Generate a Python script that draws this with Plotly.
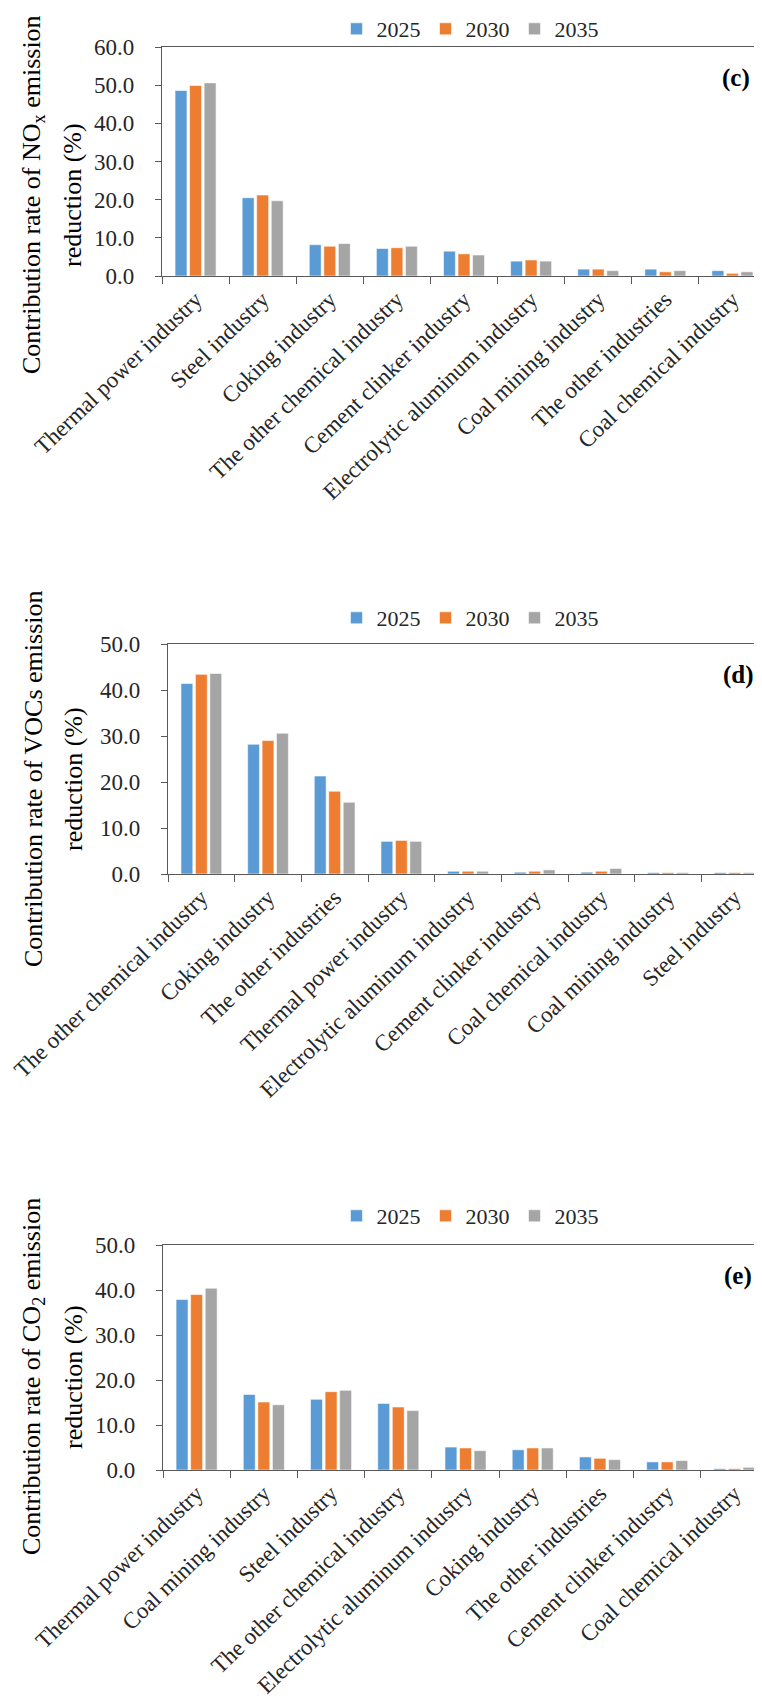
import plotly.graph_objects as go

# ---------------- data ----------------
years = ["2025", "2030", "2035"]
colors = ["#5B9BD5", "#ED7D31", "#A5A5A5"]

categories_nox = ["Thermal power industry", "Steel industry", "Coking industry",
                  "The other chemical industry", "Cement clinker industry",
                  "Electrolytic aluminum industry", "Coal mining industry",
                  "The other industries", "Coal chemical industry"]
nox_2025 = [48.6, 20.5, 8.2, 7.2, 6.5, 3.9, 1.8, 1.8, 1.4]
nox_2030 = [49.9, 21.2, 7.8, 7.4, 5.8, 4.2, 1.8, 1.1, 0.7]
nox_2035 = [50.6, 19.7, 8.5, 7.8, 5.5, 3.9, 1.4, 1.4, 1.1]

categories_voc = ["The other chemical industry", "Coking industry", "The other industries",
                  "Thermal power industry", "Electrolytic aluminum industry",
                  "Cement clinker industry", "Coal chemical industry",
                  "Coal mining industry", "Steel industry"]
voc_2025 = [41.4, 28.2, 21.3, 7.1, 0.6, 0.4, 0.4, 0.3, 0.3]
voc_2030 = [43.4, 29.0, 18.0, 7.3, 0.6, 0.6, 0.6, 0.3, 0.3]
voc_2035 = [43.6, 30.6, 15.6, 7.1, 0.6, 0.9, 1.2, 0.3, 0.3]

categories_co2 = ["Thermal power industry", "Coal mining industry", "Steel industry",
                  "The other chemical industry", "Electrolytic aluminum industry",
                  "Coking industry", "The other industries", "Cement clinker industry",
                  "Coal chemical industry"]
co2_2025 = [37.9, 16.8, 15.7, 14.8, 5.1, 4.5, 2.9, 1.8, 0.3]
co2_2030 = [39.0, 15.1, 17.4, 14.0, 4.9, 4.9, 2.6, 1.8, 0.3]
co2_2035 = [40.4, 14.5, 17.7, 13.2, 4.3, 4.9, 2.3, 2.1, 0.6]

y_ranges = [[0, 60], [0, 50], [0, 50]]
panel_tags = ["(c)", "(d)", "(e)"]
title_line1 = ["Contribution rate of NO<sub>x</sub> emission",
               "Contribution rate of VOCs emission",
               "Contribution rate of CO<sub>2</sub> emission"]
title_line2 = "reduction (%)"

# ---------------- layout geometry (pixels) ----------------
W, H = 762, 1700
FONT = "Liberation Serif, Times New Roman, serif"
panels = [
    dict(left=154, right=758, top=39, bottom=268, legend_y=None, title_cy=187),
    dict(left=160, right=760, top=636, bottom=866, legend_y=610, title_cy=771),
    dict(left=155, right=760, top=1237, bottom=1462, legend_y=1208, title_cy=1369),
]

datasets = [
    (categories_nox, [nox_2025, nox_2030, nox_2035]),
    (categories_voc, [voc_2025, voc_2030, voc_2035]),
    (categories_co2, [co2_2025, co2_2030, co2_2035]),
]

fig = go.Figure()
layout = dict(
    width=W, height=H,
    margin=dict(l=0, r=0, t=0, b=0),
    paper_bgcolor="white", plot_bgcolor="white",
    template="none",
    barmode="group", bargap=0.35, bargroupgap=0.18,
    font=dict(family=FONT, color="#262626"),
    annotations=[],
)

for i, (p, (cats, series)) in enumerate(zip(panels, datasets)):
    n = "" if i == 0 else str(i + 1)
    xa, ya = "x" + n, "y" + n
    leg = "legend" + n
    for yr, col, vals in zip(years, colors, series):
        fig.add_trace(go.Bar(
            x=cats, y=vals, name=yr, xaxis=xa, yaxis=ya, legend=leg,
            marker=dict(color=col, line=dict(color="rgba(255,255,255,0.7)", width=0.8)),
        ))
    layout["xaxis" + n] = dict(
        domain=[p["left"] / W, p["right"] / W], anchor=ya,
        type="category", tickson="boundaries", ticks="outside", ticklen=7,
        tickcolor="#595959", tickwidth=1,
        showline=True, linecolor="#595959", linewidth=1, mirror=True,
        showgrid=False, zeroline=False, automargin=False,
        tickangle=-44, tickfont=dict(family=FONT, size=23, color="#262626"),
    )
    layout["yaxis" + n] = dict(
        domain=[1 - p["bottom"] / H, 1 - p["top"] / H], anchor=xa,
        range=y_ranges[i], dtick=10, tickformat=".1f", ticksuffix="\u2002\u2009",
        ticks="outside", ticklen=6, tickcolor="#595959", tickwidth=1,
        showline=True, linecolor="#595959", linewidth=1, mirror=True,
        showgrid=False, zeroline=False, automargin=False,
        tickfont=dict(family=FONT, size=23, color="#262626"),
    )
    if p["legend_y"] is None:
        ly, yanch = 1.0, "top"
    else:
        ly, yanch = 1 - p["legend_y"] / H, "middle"
    layout[leg] = dict(
        orientation="h", x=462 / W, xanchor="center",
        y=ly, yanchor=yanch,
        font=dict(family=FONT, size=22, color="#262626"),
        bgcolor="rgba(0,0,0,0)", itemclick=False, traceorder="normal",
    )
    layout["annotations"] += [
        dict(text=title_line1[i], xref="paper", yref="paper",
             x=25 / W, y=1 - p["title_cy"] / H, xanchor="center", yanchor="middle",
             textangle=-90, showarrow=False, font=dict(family=FONT, size=26, color="#000000")),
        dict(text=title_line2, xref="paper", yref="paper",
             x=65 / W, y=1 - p["title_cy"] / H, xanchor="center", yanchor="middle",
             textangle=-90, showarrow=False, font=dict(family=FONT, size=26, color="#000000")),
        dict(text="<b>" + panel_tags[i] + "</b>", xref="paper", yref="paper",
             x=(p["right"] - 30) / W, y=1 - (p["top"] + 31) / H,
             xanchor="center", yanchor="middle", showarrow=False,
             font=dict(family=FONT, size=25, color="#000000")),
    ]

fig.update_layout(**layout)
fig.write_html("out.html")
